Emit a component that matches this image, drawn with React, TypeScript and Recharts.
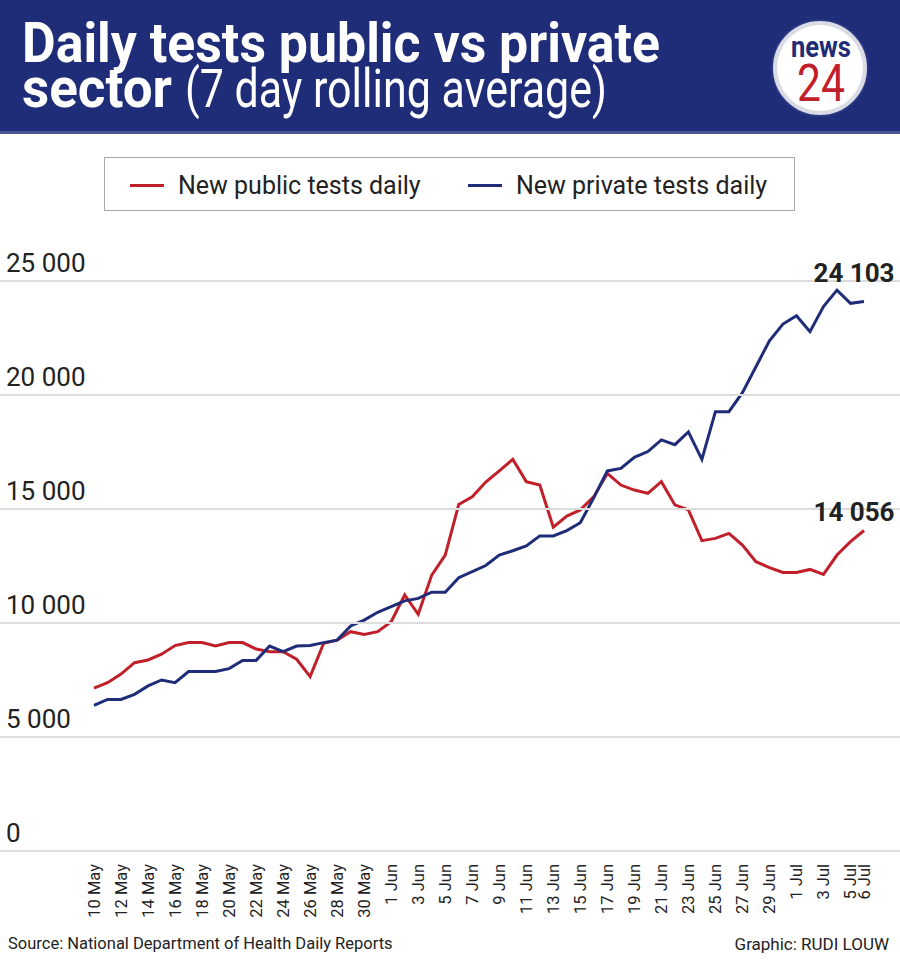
import React from "react";
import { LineChart, Line, XAxis, YAxis, LabelList } from "recharts";

// 7 day rolling average, 10 May - 6 Jul
const dates = [
    "10 May", "11 May", "12 May", "13 May", "14 May", "15 May", "16 May", "17 May", "18 May", "19 May",
    "20 May", "21 May", "22 May", "23 May", "24 May", "25 May", "26 May", "27 May", "28 May", "29 May",
    "30 May", "31 May", "1 Jun", "2 Jun", "3 Jun", "4 Jun", "5 Jun", "6 Jun", "7 Jun", "8 Jun",
    "9 Jun", "10 Jun", "11 Jun", "12 Jun", "13 Jun", "14 Jun", "15 Jun", "16 Jun", "17 Jun", "18 Jun",
    "19 Jun", "20 Jun", "21 Jun", "22 Jun", "23 Jun", "24 Jun", "25 Jun", "26 Jun", "27 Jun", "28 Jun",
    "29 Jun", "30 Jun", "1 Jul", "2 Jul", "3 Jul", "4 Jul", "5 Jul", "6 Jul",
];

const publicTests = [
    7140, 7380, 7760, 8260, 8380, 8630, 9010, 9140, 9140, 8990,
    9140, 9140, 8860, 8740, 8740, 8410, 7650, 9110, 9250, 9620,
    9500, 9620, 10060, 11230, 10380, 12100, 12980, 15200, 15540, 16180,
    16670, 17180, 16200, 16050, 14200, 14690, 14960, 15540, 16560, 16050,
    15830, 15690, 16200, 15180, 14960, 13610, 13710, 13930, 13420, 12690,
    12430, 12220, 12220, 12350, 12130, 12980, 13570, 14056,
];

const privateTests = [
    6390, 6650, 6650, 6870, 7240, 7500, 7380, 7870, 7870, 7870,
    8000, 8360, 8360, 8990, 8740, 8990, 9010, 9140, 9250, 9870,
    10130, 10470, 10720, 10970, 11080, 11350, 11350, 11990, 12250, 12520,
    12980, 13170, 13380, 13820, 13820, 14050, 14400, 15500, 16670, 16780,
    17270, 17520, 18030, 17820, 18380, 17180, 19270, 19270, 20100, 21240,
    22380, 23110, 23480, 22780, 23880, 24600, 24020, 24103,
];

const dateTicks = [
    "10 May", "12 May", "14 May", "16 May", "18 May", "20 May", "22 May", "24 May", "26 May", "28 May",
    "30 May", "1 Jun", "3 Jun", "5 Jun", "7 Jun", "9 Jun", "11 Jun", "13 Jun", "15 Jun", "17 Jun",
    "19 Jun", "21 Jun", "23 Jun", "25 Jun", "27 Jun", "29 Jun", "1 Jul", "3 Jul", "5 Jul", "6 Jul",
];

const valueTicks = [0, 5000, 10000, 15000, 20000, 25000];

const NAVY = "#1f2c78";
const RED = "#c1202b";
const FONT = "Roboto, 'Noto Sans', sans-serif";

const data = dates.map((date, i) => ({
    date,
    public: publicTests[i],
    private: privateTests[i],
}));

const fmt = (v: number) => String(v).replace(/\B(?=(\d{3})+(?!\d))/g, " ");

const DateTick = ({ x, y, payload }: any) => (
    <text
        transform={`translate(${x},${y + 11}) rotate(-90)`}
        dy="0.36em"
        textAnchor="end"
        fontSize={16.5}
        fill="#222"
        fontFamily={FONT}
    >
        {payload.value}
    </text>
);

const ValueTick = ({ y, payload }: any) => (
    <g>
        <line x1={0} x2={900} y1={y} y2={y} stroke="#dcdcdc" strokeWidth={2} />
        <text x={6} y={y - 9} fontSize={26} fill="#222" fontFamily={FONT}>
            {fmt(payload.value)}
        </text>
    </g>
);

const endLabel = (dy: number) => (props: any) => {
    const { x, y, value, index } = props;
    if (index !== dates.length - 1) return null;
    return (
        <text x={x - 10} y={y - dy} textAnchor="middle" fontSize={26} fontWeight={700} fill="#222" fontFamily={FONT}>
            {fmt(value)}
        </text>
    );
};

function Header() {
    return (
        <div style={{ position: "absolute", left: 0, top: 0, width: 900, height: 131, background: NAVY, borderBottom: "3px solid #4c5690" }}>
            <svg width={900} height={131}>
                <text fill="#fff" fontSize={56} fontFamily={FONT}>
                    <tspan x={22} y={62} fontWeight={700} textLength={638} lengthAdjust="spacingAndGlyphs">
                        Daily tests public vs private
                    </tspan>
                    <tspan x={22} y={107} fontWeight={700} textLength={150} lengthAdjust="spacingAndGlyphs">
                        sector
                    </tspan>
                    <tspan x={185} y={107} fontSize={54} textLength={422} lengthAdjust="spacingAndGlyphs">
                        (7 day rolling average)
                    </tspan>
                </text>
                <circle cx={820} cy={68} r={48} fill="#d9dbe5" stroke="#2a3684" strokeWidth={2} />
                <circle cx={820} cy={68} r={43} fill="#fff" />
                <text textAnchor="middle" fontFamily={FONT}>
                    <tspan x={821} y={57} fill={NAVY} fontSize={30} fontWeight={700} textLength={60} lengthAdjust="spacingAndGlyphs">
                        news
                    </tspan>
                    <tspan x={821} y={101} fill={RED} fontSize={52} textLength={48} lengthAdjust="spacingAndGlyphs">
                        24
                    </tspan>
                </text>
            </svg>
        </div>
    );
}

function LegendBox() {
    const item = (color: string, label: string, left: number) => (
        <div style={{ position: "absolute", left, top: 0, height: 54, display: "flex", alignItems: "center" }}>
            <div style={{ width: 34, height: 3, background: color, marginRight: 14 }} />
            <span style={{ fontSize: 25, color: "#222", fontFamily: FONT }}>{label}</span>
        </div>
    );
    return (
        <div style={{ position: "absolute", left: 104, top: 157, width: 689, height: 52, border: "1.5px solid #a8a8a8" }}>
            {item(RED, "New public tests daily", 25)}
            {item(NAVY, "New private tests daily", 363)}
        </div>
    );
}

export default function App() {
    return (
        <div style={{ position: "relative", width: 900, height: 963, background: "#fff", fontFamily: FONT }}>
            <style>{"body{margin:0}"}</style>
            <LineChart
                width={900}
                height={963}
                data={data}
                margin={{ top: 281, right: 36, bottom: 32, left: 0 }}
                style={{ position: "absolute", left: 0, top: 0 }}
            >
                <YAxis
                    width={94}
                    domain={[0, 25000]}
                    ticks={valueTicks}
                    axisLine={false}
                    tickLine={false}
                    tick={<ValueTick />}
                    interval={0}
                />
                <XAxis
                    dataKey="date"
                    ticks={dateTicks}
                    interval={0}
                    height={80}
                    axisLine={false}
                    tickLine={false}
                    tickSize={0}
                    tick={<DateTick />}
                />
                <Line
                    dataKey="public"
                    stroke={RED}
                    strokeWidth={3}
                    dot={false}
                    isAnimationActive={false}
                >
                    <LabelList dataKey="public" content={endLabel(10)} />
                </Line>
                <Line
                    dataKey="private"
                    stroke={NAVY}
                    strokeWidth={3}
                    dot={false}
                    isAnimationActive={false}
                >
                    <LabelList dataKey="private" content={endLabel(19)} />
                </Line>
            </LineChart>
            <Header />
            <LegendBox />
            <div style={{ position: "absolute", left: 8, top: 934, fontSize: 16.5, color: "#222" }}>
                Source: National Department of Health Daily Reports
            </div>
            <div style={{ position: "absolute", right: 11, top: 934, fontSize: 17, color: "#222" }}>
                Graphic: RUDI LOUW
            </div>
        </div>
    );
}
